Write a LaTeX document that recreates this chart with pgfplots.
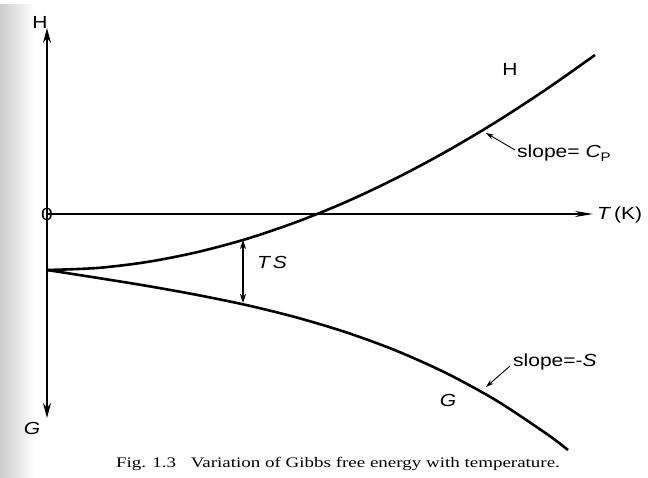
\documentclass[border=0pt]{standalone}
\usepackage{fontspec}
\setmainfont{Liberation Serif}
\newfontfamily\lab[FakeStretch=1.2]{Liberation Sans}
\newfontfamily\capfont[FakeStretch=1.3]{Liberation Serif}
\usepackage{pgfplots}
\pgfplotsset{compat=1.18}
\usetikzlibrary{arrows.meta}

\begin{document}
\begin{tikzpicture}[x=1pt,y=1pt]
\path[use as bounding box] (0,0) rectangle (648,477);
\fill[white] (0,0) rectangle (648,477);
\shade[left color=black!20, right color=white] (0,0) rectangle (34,472);
\begin{axis}[
  at={(47,263)}, anchor=origin,
  x=1pt, y=1pt,
  xmin=0, xmax=546, ymin=-204, ymax=186,
  axis lines=middle,
  xtick=\empty, ytick=\empty,
  clip=false,
  x axis line style={line width=1.2pt, -{Stealth[length=18pt,width=6pt]}},
  y axis line style={line width=1.8pt, {Stealth[length=15pt,width=8pt]}-{Stealth[length=15pt,width=8pt]}},
  font=\lab\fontsize{17.5}{20}\selectfont,
]
% H(T)
\addplot[black, line width=2.6pt, smooth] coordinates {
  (0,-56)(50,-54)(100,-48)(150,-38.2)(200,-24.8)(250,-7.8)(300,12.5)
  (350,36.2)(400,62.9)(450,92.6)(500,125.2)(548,159)};
% G(T)
\addplot[black, line width=2.6pt, smooth] coordinates {
  (0,-56)(50,-63.8)(100,-71.9)(150,-80.9)(200,-91.2)(250,-103.6)(300,-118.6)
  (350,-137)(400,-159.5)(450,-186.9)(500,-220.1)(521,-236)};

\node[inner sep=0pt] at (axis cs:0,0) {0};
\node at (axis cs:-7,192) {H};
\node at (axis cs:-15,-214) {\itshape G};
\node[anchor=west, inner sep=0pt] at (axis cs:550,-1) {\itshape T\upshape\kern4pt(K)};
\node at (axis cs:463,145) {H};
\node at (axis cs:401,-186) {\itshape G};
\node at (axis cs:225,-48) {\itshape T\,S};

\draw[line width=1.2pt, {Stealth[length=9pt,width=6pt]}-{Stealth[length=9pt,width=6pt]}]
  (axis cs:196,-26) -- (axis cs:196,-89);
\draw[line width=0.9pt, -{Stealth[length=8pt,width=5pt]}]
  (axis cs:468,64) -- (axis cs:439,81);
\node[anchor=west, inner sep=1pt] at (axis cs:469,61)
  {slope= \itshape C\upshape\raisebox{-0.45ex}{\fontsize{12.5}{14}\selectfont P}};
\draw[line width=0.9pt, -{Stealth[length=8pt,width=5pt]}]
  (axis cs:463,-152) -- (axis cs:439,-173);
\node[anchor=west, inner sep=1pt] at (axis cs:465,-148) {slope=-\itshape S};
\end{axis}
\node[font=\capfont\fontsize{14.6}{17}\selectfont] at (338,13)
  {Fig. 1.3\quad Variation of Gibbs free energy with temperature.};
\end{tikzpicture}
\end{document}
